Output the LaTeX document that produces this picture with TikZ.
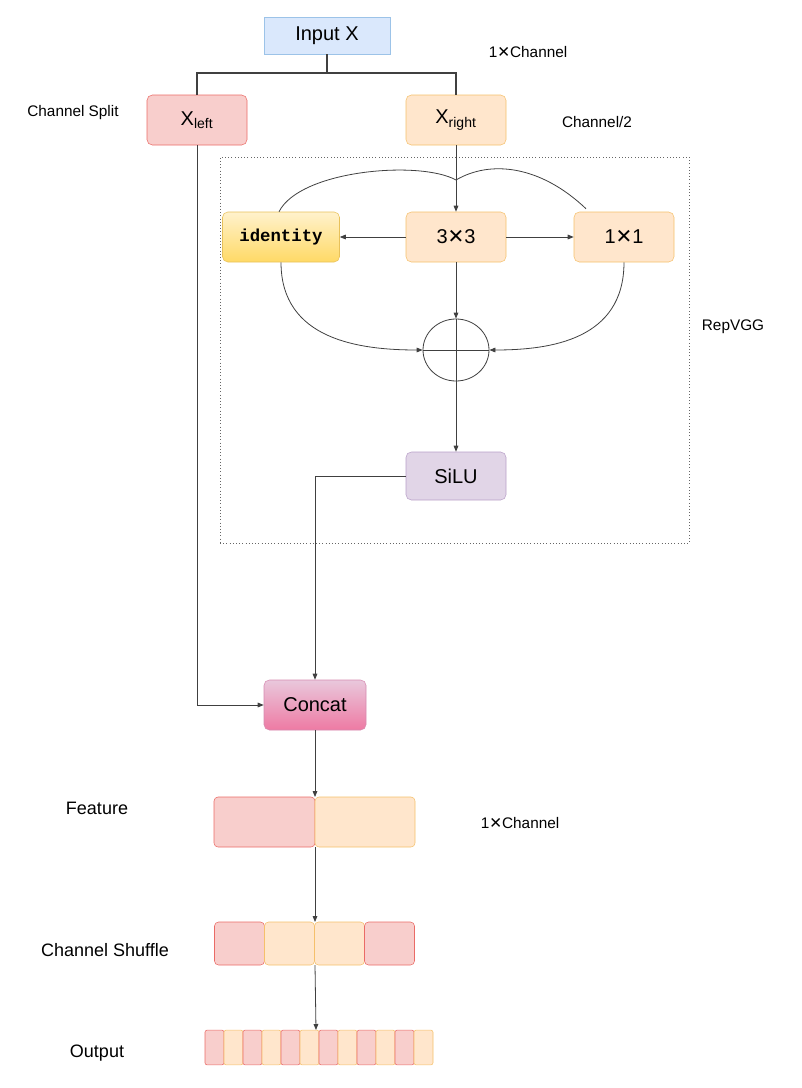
\documentclass[tikz,border=0pt]{standalone}
\usepackage{fontspec}
\setmainfont{Liberation Sans}
\newfontfamily\djv{DejaVu Sans}
\newfontfamily\monof{Liberation Mono}
\usetikzlibrary{arrows.meta,calc,shapes.geometric}
\definecolor{redF}{HTML}{F8CECC}\definecolor{redS}{HTML}{EA6B66}
\definecolor{orF}{HTML}{FFE6CC}\definecolor{orS}{HTML}{F5C06B}
\definecolor{blF}{HTML}{DAE8FC}\definecolor{blS}{HTML}{9CC3E8}
\definecolor{puF}{HTML}{E1D5E7}\definecolor{puS}{HTML}{B9A0C8}
\definecolor{yeT}{HTML}{FFF2CC}\definecolor{yeB}{HTML}{FFD966}\definecolor{yeS}{HTML}{E8C15A}
\definecolor{pkT}{HTML}{E9C8DC}\definecolor{pkB}{HTML}{EE7AA3}\definecolor{pkS}{HTML}{D68AB0}
\newcommand{\xx}{{\djv\bfseries\char"2715}}
\begin{document}
\begin{tikzpicture}[x=0.75pt,y=-0.75pt,
  box/.style={draw,rounded corners=4pt,minimum width=75pt,minimum height=37.5pt,inner sep=0pt,font=\fontsize{15}{17}\selectfont},
  red/.style={box,fill=redF,draw=redS},
  ora/.style={box,fill=orF,draw=orS},
  cell/.style={draw,rounded corners=3pt,inner sep=0pt},
  lbl/.style={font=\fontsize{11.5}{13}\selectfont},
  big/.style={font=\fontsize{13.5}{15}\selectfont},
  arr/.style={-{Triangle[length=4.5pt,width=3.5pt]},line width=0.6pt,draw=black!75},
  ln/.style={line width=0.6pt,draw=black!75}]
\useasboundingbox (0,0) rectangle (801,1088);
\node[box,rounded corners=0pt,fill=blF,draw=blS,minimum width=94.5pt,minimum height=27.75pt] (in) at (327,35.5) {Input X};
\node[red] (xl) at (197,120) {X\textsubscript{left}};
\node[ora] (xr) at (456,120) {X\textsubscript{right}};
\node[lbl] (cs) at (73,113) {Channel Split};
\node[lbl] (c1) at (528,52) {1\xx Channel};
\node[lbl] (c2) at (597,122) {Channel/2};
\draw[ln,line width=1.2pt] (in.south) -- ++(0,19) coordinate (j);
\draw[ln,line width=1.2pt] (xl.north) |- (j) -| (xr.north);
\node[draw=black!60,dotted,minimum width=351.75pt,minimum height=289.5pt] (rep) at (454.5,350) {};
\node[lbl] (rl) at (733,327) {RepVGG};
\node[box,top color=yeT,bottom color=yeB,draw=yeS,minimum width=87.75pt,font=\monof\bfseries\fontsize{13}{15}\selectfont] (id) at (281,237) {identity};
\node[ora] (k3) at (456,237) {3\xx 3};
\node[ora] (k1) at (624,237) {1\xx 1};
\draw[arr] (xr) -- (k3);
\draw[arr] (k3) -- (id);
\draw[arr] (k3) -- (k1);
\draw[ln] ($(id.north)+(-2,0)$) .. controls (300,170) and (420,160) .. (456,180) .. controls (490,160) and (540,165) .. ($(k1.north)+(-38,-3)$);
\node[draw=black!75,line width=0.6pt,ellipse,minimum width=49.5pt,minimum height=46.5pt,inner sep=0pt] (sum) at (456,350) {};
\draw[ln] (sum.west) -- (sum.east);
\draw[arr] (k3) -- (sum.north);
\draw[arr] (id.south) .. controls (281,340) and (360,350) .. (sum.west);
\draw[arr] (k1.south) .. controls (624,340) and (550,350) .. (sum.east);
\node[box,fill=puF,draw=puS,minimum height=36pt] (silu) at (456,476) {SiLU};
\draw[arr] (sum.north) -- (silu.north);
\node[box,top color=pkT,bottom color=pkB,draw=pkS,minimum width=76.5pt] (cc) at (315,705) {Concat};
\draw[arr] (silu.west) -| (cc.north);
\draw[arr] (xl.south) |- (cc.west);
\node[cell,fill=redF,draw=redS,minimum width=75.75pt,minimum height=37.5pt] (f1) at (264.5,822) {};
\node[cell,fill=orF,draw=orS,minimum width=75pt,minimum height=37.5pt] (f2) at (365,822) {};
\node[big] (fl) at (97,808) {Feature};
\node[lbl] (c3) at (520,823) {1\xx Channel};
\coordinate (fm) at (315,797);
\draw[arr] (cc.south) -- (fm);
\node[cell,fill=redF,draw=redS,minimum width=37.5pt,minimum height=32.25pt] (s1) at (239.5,943.5) {};
\node[cell,fill=orF,draw=orS,minimum width=37.5pt,minimum height=32.25pt] (s2) at (289.5,943.5) {};
\node[cell,fill=orF,draw=orS,minimum width=37.5pt,minimum height=32.25pt] (s3) at (339.5,943.5) {};
\node[cell,fill=redF,draw=redS,minimum width=37.5pt,minimum height=32.25pt] (s4) at (389.5,943.5) {};
\node[big] (sl) at (105,950) {Channel Shuffle};
\coordinate (fb) at (315,847);
\coordinate (st) at (315,922);
\draw[arr] (fb) -- (st);
\foreach \i in {0,...,11}{
  \pgfmathtruncatemacro\odd{mod(\i,2)}
  \ifnum\odd=0
    \node[draw=redS,fill=redF,rounded corners=1.5pt,minimum width=14.25pt,minimum height=26pt,inner sep=0pt] (o\i) at ({214.5+19*\i},1047.5) {};
  \else
    \node[draw=orS,fill=orF,rounded corners=1.5pt,minimum width=14.25pt,minimum height=26pt,inner sep=0pt] (o\i) at ({214.5+19*\i},1047.5) {};
  \fi
}
\node[big] (ol) at (97,1053) {Output};
\coordinate (sb) at (315,965);
\coordinate (ot) at (316,1030);
\draw[arr] (sb) -- (ot);
\end{tikzpicture}
\end{document}
